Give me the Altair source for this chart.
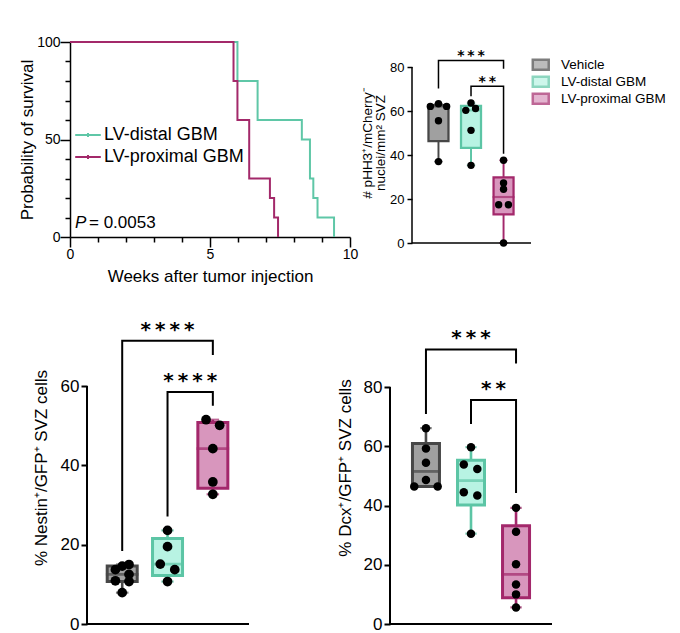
import altair as alt
import numpy as np
import pandas as pd

FONT = "Liberation Sans"
STAR_FONT = "DejaVu Sans"
THIN = "\u2009"

# ---------------- Panel A: survival ----------------
surv_groups = ["LV-distal GBM", "LV-proximal GBM"]
surv_colors = ["#5fc7a7", "#a3296a"]
distal_weeks = [0, 5.98, 6.70, 8.28, 8.57, 8.69, 8.84, 9.43]
distal_surv = [100, 80, 60, 50, 30, 20, 10, 0]
prox_weeks = [0, 5.84, 5.98, 6.40, 7.14, 7.29, 7.43]
prox_surv = [100, 80, 60, 30, 20, 10, 0]
surv_x_ticks = [0, 1, 2, 3, 4, 5, 6, 7, 8, 9, 10]
surv_y_ticks = [0, 10, 20, 30, 40, 50, 60, 70, 80, 90, 100]
p_label = "P"
p_value = "= 0.0053"

# ---------------- box panels ----------------
groups = ["Vehicle", "LV-distal GBM", "LV-proximal GBM"]
fill_colors = ["#a0a0a0", "#b8f3e3", "#d896bd"]
stroke_colors = ["#474747", "#5cc5a5", "#a3286b"]

pHH3_values = {
    "Vehicle": [62.1, 63.3, 62.1, 55.6, 37.0],
    "LV-distal GBM": [63.6, 60.3, 61.1, 51.2, 35.3],
    "LV-proximal GBM": [37.6, 27.3, 24.4, 17.4, 17.4, 0.0],
}
pHH3_jitter = {
    "Vehicle": [-0.25, 0, 0.25, 0, 0],
    "LV-distal GBM": [0, -0.16, 0.14, 0, 0],
    "LV-proximal GBM": [0, 0, 0, -0.15, 0.15, 0],
}
pHH3_ticks = [0, 20, 40, 60, 80]
pHH3_brackets = [(0, 2, 70.2, 83.0, 79.2, "***"), (1, 2, 66.7, 71.2, 40.6, "**")]

nestin_values = {
    "Vehicle": [15.0, 13.7, 14.6, 12.5, 10.9, 10.7, 7.9],
    "LV-distal GBM": [23.6, 19.5, 15.1, 13.7, 10.7],
    "LV-proximal GBM": [51.5, 50.1, 44.2, 35.8, 32.7],
}
nestin_jitter = {
    "Vehicle": [0.15, -0.15, 0.0, 0.15, -0.15, 0.15, 0.0],
    "LV-distal GBM": [0, 0, -0.16, 0.16, 0],
    "LV-proximal GBM": [-0.15, 0.15, 0, 0, 0],
}
nestin_ticks = [0, 20, 40, 60]
nestin_brackets = [(0, 2, 18.4, 71.4, 67.8, "****"), (1, 2, 27.1, 58.5, 55.0, "****")]

dcx_values = {
    "Vehicle": [66.1, 59.2, 54.4, 48.6, 46.4, 46.4],
    "LV-distal GBM": [59.7, 53.8, 52.3, 44.5, 43.4, 30.5],
    "LV-proximal GBM": [39.2, 31.1, 20.2, 13.3, 10.0, 5.6],
}
dcx_jitter = {
    "Vehicle": [0, 0, 0, 0, -0.26, 0.26],
    "LV-distal GBM": [0, -0.16, 0.14, -0.16, 0.14, 0],
    "LV-proximal GBM": [0, 0, 0, 0, 0, 0],
}
dcx_ticks = [0, 20, 40, 60, 80]
dcx_brackets = [(0, 2, 70.9, 92.7, 87.9, "***"), (1, 2, 67.5, 75.6, 44.2, "**")]


def box_tables(values, jitter):
    stats, pts = [], []
    for i, g in enumerate(groups):
        v = np.array(values[g], dtype=float)
        q1, med, q3 = np.percentile(v, [25, 50, 75], method="weibull")
        stats.append(dict(group=g, idx=i, lo=v.min(), q1=q1, med=med, q3=q3, hi=v.max()))
        for val, j in zip(values[g], jitter[g]):
            pts.append(dict(group=g, pos=i + j, value=val))
    return pd.DataFrame(stats), pd.DataFrame(pts)


def bracket_tables(brackets):
    rows, labels = [], []
    for k, (a, b, yl, top, yr, lab) in enumerate(brackets):
        for s, (x, y) in enumerate([(a, yl), (a, top), (b, top), (b, yr)]):
            rows.append(dict(bid=k, seq=s, x=x, y=y))
        labels.append(dict(x=(a + b) / 2, y=top, label=THIN.join(lab)))
    return pd.DataFrame(rows), pd.DataFrame(labels)


fill_scale = alt.Scale(domain=groups, range=fill_colors)
stroke_scale = alt.Scale(domain=groups, range=stroke_colors)


def box_panel(values, jitter, brackets, ticks, title, width, height, ymax, pad,
              box_w, pt_size, lw, label_size, title_size, title_pad, star_size,
              star_gap, tick_len, label_pad, legend=None, title_line_height=None,
              axis_shift=0):
    stats, pts = box_tables(values, jitter)
    br, lab = bracket_tables(brackets)
    axis_line = pd.DataFrame({"lo": [min(ticks)], "hi": [max(ticks)]})

    xs = alt.Scale(domain=[-pad[0], len(groups) - 1 + pad[1]], nice=False, zero=False)
    ys = alt.Scale(domain=[0, ymax], nice=False, zero=False)
    yaxis_kw = dict(values=ticks, domain=False, grid=False, tickSize=tick_len,
                    tickWidth=lw, tickColor="black", labelFontSize=label_size,
                    labelPadding=label_pad, title=title, titleFontSize=title_size,
                    titlePadding=title_pad, titleFontWeight="normal")
    if title_line_height:
        yaxis_kw["titleLineHeight"] = title_line_height
    if axis_shift:
        yaxis_kw["offset"] = -axis_shift
    yaxis = alt.Axis(**yaxis_kw)

    def X(f):
        return alt.X(f, type="quantitative", scale=xs, axis=None)

    def Y(f):
        return alt.Y(f, type="quantitative", scale=ys, axis=yaxis)

    fill = alt.Fill("group:N", scale=fill_scale, legend=legend)
    stroke = alt.Stroke("group:N", scale=stroke_scale, legend=legend)

    base = alt.Chart(stats)
    whisker = base.mark_rule(strokeWidth=lw * 1.3).encode(x=X("idx"), y=Y("lo"), y2="hi", stroke=stroke)
    cap_lo = base.mark_tick(orient="horizontal", size=box_w * 0.35, thickness=0.2,
                            filled=False, strokeWidth=lw).encode(
        x=X("idx"), y=Y("lo"), stroke=stroke)
    cap_hi = base.mark_tick(orient="horizontal", size=box_w * 0.35, thickness=0.2,
                            filled=False, strokeWidth=lw).encode(
        x=X("idx"), y=Y("hi"), stroke=stroke)
    box = base.mark_bar(size=box_w, strokeWidth=lw * 1.5).encode(
        x=X("idx"), y=Y("q1"), y2="q3", fill=fill, stroke=stroke)
    median = base.mark_tick(orient="horizontal", size=box_w, thickness=0.2,
                            filled=False, strokeWidth=lw * 1.3).encode(
        x=X("idx"), y=Y("med"), stroke=stroke)
    points = alt.Chart(pts).mark_circle(size=pt_size, color="black", opacity=1).encode(
        x=X("pos"), y=Y("value"))
    lines = alt.Chart(br).mark_line(color="black", strokeWidth=lw).encode(
        x=X("x"), y=Y("y"), detail="bid:N", order="seq:Q")
    stars = alt.Chart(lab).mark_text(font=STAR_FONT, fontWeight="bold", fontSize=star_size,
                                     baseline="alphabetic", align="center", dy=-star_gap,
                                     color="black").encode(
        x=X("x"), y=Y("y"), text="label:N")
    yline = alt.Chart(axis_line).mark_rule(strokeWidth=lw, color="black").encode(
        x=alt.value(axis_shift), y=Y("lo"), y2="hi")
    xline = alt.Chart(axis_line).mark_rule(strokeWidth=lw, color="black").encode(
        x=alt.value(axis_shift), x2=alt.value(width), y=Y("lo"))
    layers = [whisker, cap_lo, cap_hi, box, median, points, lines, stars, yline, xline]
    return alt.layer(*layers).properties(width=width, height=height)


# ---------------- build panel A ----------------
surv_df = pd.DataFrame(
    [dict(group=surv_groups[0], weeks=t, surv=p) for t, p in zip(distal_weeks, distal_surv)]
    + [dict(group=surv_groups[1], weeks=t, surv=p) for t, p in zip(prox_weeks, prox_surv)]
)
major_x = "datum.value % 5 === 0"
major_y = "datum.value % 50 === 0"
surv_x = alt.X("weeks:Q", scale=alt.Scale(domain=[0, 10], nice=False),
               axis=alt.Axis(values=surv_x_ticks, labelExpr=f"{major_x} ? datum.label : ''",
                             tickSize={"condition": {"test": major_x, "value": 10}, "value": 5},
                             tickWidth=1.5, domainWidth=1.5, labelFontSize=14, labelPadding=0,
                             title="Weeks after tumor injection", titleFontSize=17,
                             titlePadding=7, titleFontWeight="normal", grid=False,
                             labelFlush=False))
surv_y = alt.Y("surv:Q", scale=alt.Scale(domain=[0, 100], nice=False),
               axis=alt.Axis(values=surv_y_ticks, labelExpr=f"{major_y} ? datum.label : ''",
                             tickSize={"condition": {"test": major_y, "value": 10}, "value": 5},
                             tickWidth=1.5, domainWidth=1.5, labelFontSize=14, labelPadding=0,
                             title="Probability of survival", titleFontSize=17,
                             titlePadding=0, titleFontWeight="normal", grid=False))
surv_lines = alt.Chart(surv_df).mark_line(interpolate="step-after", strokeWidth=2).encode(
    x=surv_x, y=surv_y,
    color=alt.Color("group:N", scale=alt.Scale(domain=surv_groups, range=surv_colors),
                    legend=alt.Legend(orient="none", legendX=9, legendY=84, title=None,
                                      symbolType="M-1.6,0H1.6M0,-0.25V0.25", symbolSize=256,
                                      symbolStrokeWidth=2, labelFontSize=18, labelFont=FONT,
                                      labelOffset=7, rowPadding=4, padding=0,
                                      labelColor="black")),
)
p_text = alt.Chart(pd.DataFrame({"label": [p_label]})).mark_text(
    font=FONT, fontSize=17, fontStyle="italic", align="left", baseline="alphabetic",
    color="black").encode(x=alt.value(5), y=alt.value(186), text="label:N")
p_num = alt.Chart(pd.DataFrame({"label": [p_value]})).mark_text(
    font=FONT, fontSize=17, align="left", baseline="alphabetic", color="black").encode(
    x=alt.value(19), y=alt.value(186), text="label:N")
panel_a = alt.layer(surv_lines, p_text, p_num).properties(width=280, height=195)

# legend of the box panels (placed relative to the first panel's plot origin)
legend_b = alt.Legend(orient="none", legendX=464, legendY=16, title=None,
                      symbolType="M-1.68,-1.05H1.68V1.05H-1.68Z", symbolSize=90,
                      symbolStrokeWidth=2.5, labelFontSize=13.5, labelFont=FONT,
                      labelOffset=13.5, rowPadding=-4.5, padding=0, labelColor="black")

panel_b = box_panel(pHH3_values, pHH3_jitter, pHH3_brackets, pHH3_ticks,
                    ["# pHH3\u207a/mCherry\u207b", "nuclei/mm\u00b2 SVZ"],
                    width=119, height=201, ymax=201 / 2.2, pad=(0.66, 0.69),
                    box_w=20, pt_size=55, lw=1.5, label_size=13, title_size=13.5,
                    title_pad=2, star_size=14, star_gap=0.5, tick_len=5, label_pad=3,
                    legend=legend_b, title_line_height=13)

panel_c = box_panel(nestin_values, nestin_jitter, nestin_brackets, nestin_ticks,
                    "% Nestin\u207a/GFP\u207a SVZ cells",
                    width=179, height=313, ymax=313 / (238 / 60), pad=(50 / 48, 0.6875),
                    box_w=30, pt_size=95, lw=2, label_size=17, title_size=17,
                    title_pad=10, star_size=20, star_gap=5, tick_len=6, label_pad=2,
                    axis_shift=17)

panel_d = box_panel(dcx_values, dcx_jitter, dcx_brackets, dcx_ticks,
                    "% Dcx\u207a/GFP\u207a SVZ cells",
                    width=162, height=313, ymax=313 / (237 / 80), pad=(0.6875, 0.6875),
                    box_w=27, pt_size=72, lw=2, label_size=17, title_size=17,
                    title_pad=9, star_size=20, star_gap=5, tick_len=6, label_pad=2)

row1 = alt.hconcat(panel_a, panel_b, spacing=2)
row2 = alt.hconcat(panel_c, panel_d, spacing=86)

chart = alt.vconcat(row1, row2, spacing=27).properties(
    padding={"left": 10, "top": 27, "right": 5, "bottom": 0}
).configure(font=FONT).configure_view(stroke=None).configure_axis(
    domainColor="black", tickColor="black", labelColor="black", titleColor="black",
    labelFont=FONT, titleFont=FONT, grid=False
)

chart.save("out.html", embed_options={"renderer": "svg", "actions": False})
